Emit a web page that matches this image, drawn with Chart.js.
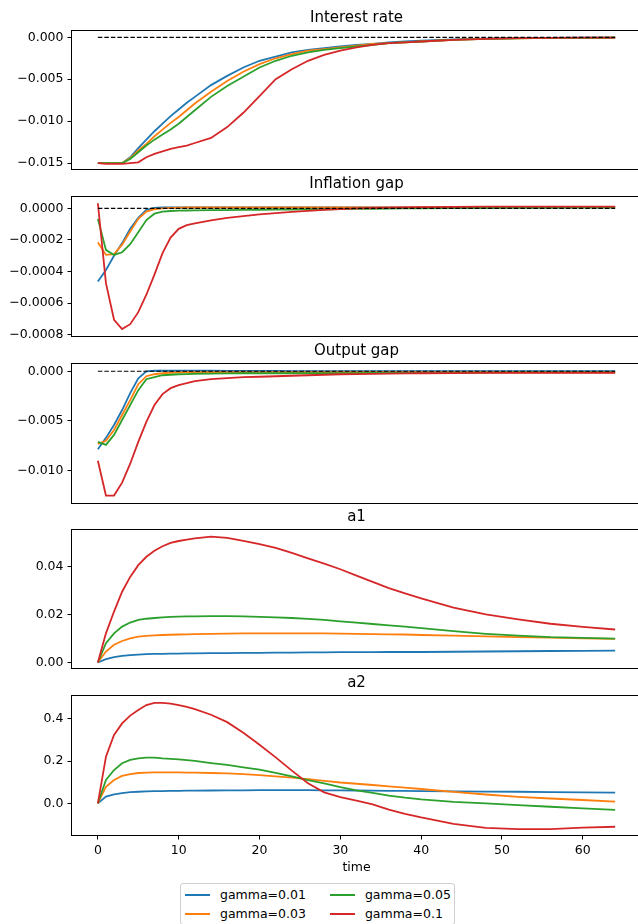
<!DOCTYPE html>
<html>
<head>
<meta charset="utf-8">
<script src="https://cdn.jsdelivr.net/npm/chart.js@4.4.1/dist/chart.umd.min.js"></script>
<style>
html, body { margin: 0; padding: 0; width: 638px; height: 924px; overflow: hidden; background: #fff; }
canvas { position: absolute; left: 0; }
#legend {
    position: absolute; left: 180px; top: 883px;
    border: 1px solid #d0d0d0; border-radius: 3px;
    padding: 1px 3px 1px 4px;
    display: grid; grid-auto-flow: column; grid-template-rows: 19px 19px; column-gap: 24px;
    font: 12.5px 'DejaVu Sans', sans-serif; color: #000; background: #fff;
}
#legend .item { display: flex; align-items: center; white-space: nowrap; }
#legend .line { display: inline-block; width: 25px; height: 2px; margin-right: 10px; }
</style>
</head>
<body>
<canvas id="rateChart"></canvas>
<canvas id="inflChart"></canvas>
<canvas id="outChart"></canvas>
<canvas id="a1Chart"></canvas>
<canvas id="a2Chart"></canvas>
<div id="legend"></div>
<script>
// time points
const time = [0, 1, 2, 3, 4, 5, 6, 7, 8, 9, 10, 11, 12, 14, 16, 18, 20, 22, 24, 26, 28, 30, 32, 34, 36, 38, 40, 44, 48, 52, 56, 60, 64];
const timeTicks = [0, 10, 20, 30, 40, 50, 60];
const gammaLabels = ["gamma=0.01", "gamma=0.03", "gamma=0.05", "gamma=0.1"];

// Interest rate
const rate001 = [-0.0150, -0.0150, -0.0150, -0.0150, -0.0143, -0.0132, -0.0122, -0.0112, -0.0103, -0.0094, -0.0086, -0.0078, -0.0071,
    -0.0057, -0.0046, -0.0036, -0.0028, -0.0023, -0.0018, -0.0015, -0.0013, -0.0011, -0.0009, -0.0008, -0.0006, -0.0005, -0.0004,
    -0.00025, -0.00015, -0.0001, -0.00007, -0.00005, -0.00004];
const rate003 = [-0.0150, -0.0150, -0.0150, -0.0150, -0.0144, -0.0135, -0.0127, -0.0118, -0.0110, -0.0102, -0.0095, -0.0087, -0.0079,
    -0.0065, -0.0052, -0.0041, -0.0032, -0.0025, -0.0020, -0.0016, -0.0014, -0.0012, -0.0010, -0.0008, -0.0007, -0.0006, -0.0005,
    -0.0003, -0.0002, -0.00012, -0.00008, -0.00006, -0.00004];
const rate005 = [-0.0150, -0.0150, -0.0150, -0.0150, -0.0145, -0.0137, -0.0129, -0.0122, -0.0116, -0.0110, -0.0103, -0.0095, -0.0087,
    -0.0071, -0.0058, -0.0047, -0.0036, -0.0028, -0.0022, -0.0018, -0.0015, -0.0013, -0.0011, -0.0009, -0.0007, -0.0006, -0.0005,
    -0.0003, -0.0002, -0.00012, -0.00008, -0.00006, -0.00004];
const rate010 = [-0.0150, -0.0151, -0.0151, -0.0151, -0.0150, -0.0149, -0.0143, -0.0139, -0.0136, -0.0133, -0.0131, -0.0129, -0.0126,
    -0.0120, -0.0107, -0.0090, -0.0070, -0.0050, -0.0038, -0.0028, -0.0021, -0.0016, -0.0012, -0.0009, -0.0007, -0.0006, -0.0005,
    -0.0003, -0.0002, -0.0001, -0.00007, -0.00005, -0.00004];
const rateTicks = [0, -0.005, -0.010, -0.015];

// Inflation gap
const infl001 = [-0.000463, -0.00039, -0.00030, -0.00022, -0.00013, -0.00006, -0.00001, 0.000002, 0.000005, 0.000005, 0.000005, 0.000005, 0.000005,
    0.000005, 0.000005, 0.000005, 0.000005, 0.000005, 0.000005, 0.000005, 0.000005, 0.000005, 0.000005, 0.000005, 0.000005, 0.000005, 0.000005,
    0.000006, 0.000006, 0.000006, 0.000006, 0.000006, 0.000006];
const infl003 = [-0.000215, -0.000295, -0.00029, -0.00023, -0.000147, -0.000067, -0.000021, -0.000006, 0.0, 0.000003, 0.000004, 0.000005, 0.000005,
    0.000005, 0.000005, 0.000005, 0.000005, 0.000005, 0.000005, 0.000005, 0.000005, 0.000005, 0.000006, 0.000006, 0.000006, 0.000006, 0.000006,
    0.000007, 0.000007, 0.000007, 0.000007, 0.000007, 0.000007];
const infl005 = [-0.000067, -0.000263, -0.000295, -0.000278, -0.000227, -0.000152, -0.000074, -0.000034, -0.000021, -0.000017, -0.000015, -0.000014, -0.000013,
    -0.000012, -0.000011, -0.00001, -0.00001, -0.000009, -0.000008, -0.000007, -0.000006, -0.000005, -0.000004, -0.000003, -0.000002, -0.000001, 0.0,
    0.000001, 0.000002, 0.000003, 0.000003, 0.000004, 0.000004];
const infl010 = [0.000032, -0.000474, -0.000705, -0.000764, -0.000733, -0.000657, -0.000547, -0.00042, -0.000284, -0.000185, -0.00013, -0.000107, -0.000095,
    -0.000076, -0.000061, -0.00005, -0.000038, -0.00003, -0.000022, -0.000016, -0.00001, -0.000005, -0.000001, 0.000002, 0.000004, 0.000006, 0.000007,
    0.000009, 0.00001, 0.00001, 0.00001, 0.00001, 0.00001];
const inflTicks = [0, -0.0002, -0.0004, -0.0006, -0.0008];

// Output gap
const out001 = [-0.00785, -0.0067, -0.0054, -0.0039, -0.0022, -0.0007, 0.0, 0.00005, 0.00005, 0.00005, 0.00005, 0.00005, 0.00005,
    0.00005, 0.00004, 0.00004, 0.00003, 0.00003, 0.00002, 0.00002, 0.00001, 0.00001, 0.00001, 0.0, 0.0, 0.0, 0.0,
    0.0, 0.0, 0.0, 0.0, 0.0, 0.0];
const out003 = [-0.0073, -0.0070, -0.0059, -0.0044, -0.0029, -0.0013, -0.0005, -0.0003, -0.0002, -0.00015, -0.00012, -0.0001, -0.0001,
    -0.0001, -0.0001, -0.0001, -0.0001, -0.0001, -0.0001, -0.0001, -0.0001, -0.0001, -0.0001, -0.0001, -0.0001, -0.0001, -0.0001,
    -0.0001, -0.0001, -0.0001, -0.0001, -0.0001, -0.0001];
const out005 = [-0.0071, -0.0074, -0.0064, -0.0049, -0.0034, -0.0019, -0.0008, -0.0006, -0.0004, -0.00035, -0.0003, -0.00028, -0.00025,
    -0.00023, -0.00022, -0.0002, -0.0002, -0.0002, -0.0002, -0.0002, -0.00019, -0.00018, -0.00018, -0.00017, -0.00017, -0.00016, -0.00016,
    -0.00015, -0.00013, -0.00012, -0.0001, -0.0001, -0.0001];
const out010 = [-0.0090, -0.0125, -0.0125, -0.0112, -0.0093, -0.0071, -0.0051, -0.0034, -0.0023, -0.0017, -0.0014, -0.0012, -0.0010,
    -0.0008, -0.0007, -0.0006, -0.00055, -0.0005, -0.00045, -0.0004, -0.00035, -0.0003, -0.00028, -0.00026, -0.00024, -0.00022, -0.0002,
    -0.00018, -0.00017, -0.00016, -0.00015, -0.00015, -0.00015];
const outTicks = [0, -0.005, -0.010];

// a1
const a1g001 = [0, 0.0014, 0.0022, 0.0028, 0.0031, 0.0033, 0.0035, 0.0036, 0.0036, 0.0037, 0.0037, 0.0038, 0.0038,
    0.0039, 0.0039, 0.0040, 0.0040, 0.0041, 0.0041, 0.0042, 0.0042, 0.0043, 0.0043, 0.0043, 0.0044, 0.0044, 0.0044,
    0.0045, 0.0046, 0.0047, 0.0048, 0.0049, 0.0050];
const a1g003 = [0, 0.0046, 0.0074, 0.0090, 0.0101, 0.0108, 0.0111, 0.0113, 0.0115, 0.0116, 0.0117, 0.0118, 0.0119,
    0.0120, 0.0121, 0.0122, 0.0122, 0.0122, 0.0122, 0.0122, 0.0122, 0.0121, 0.0120, 0.0119, 0.0118, 0.0117, 0.0115,
    0.0112, 0.0109, 0.0106, 0.0104, 0.0101, 0.0099];
const a1g005 = [0, 0.0081, 0.0122, 0.0150, 0.0167, 0.0178, 0.0183, 0.0186, 0.0189, 0.0191, 0.0192, 0.0193, 0.0193,
    0.0194, 0.0194, 0.0193, 0.0191, 0.0189, 0.0186, 0.0182, 0.0178, 0.0172, 0.0167, 0.0161, 0.0155, 0.0150, 0.0144,
    0.0131, 0.0120, 0.0112, 0.0106, 0.0103, 0.0100];
const a1g010 = [0, 0.0122, 0.0213, 0.0296, 0.0358, 0.0407, 0.0442, 0.0467, 0.0486, 0.0500, 0.0508, 0.0514, 0.0519,
    0.0526, 0.0521, 0.0509, 0.0495, 0.0479, 0.0458, 0.0435, 0.0413, 0.0390, 0.0363, 0.0337, 0.0311, 0.0289, 0.0268,
    0.0229, 0.0201, 0.0180, 0.0162, 0.0149, 0.0138];
const a1Ticks = [0, 0.02, 0.04];

// a2
const a2g001 = [0, 0.032, 0.043, 0.049, 0.053, 0.055, 0.057, 0.058, 0.058, 0.059, 0.059, 0.060, 0.060,
    0.061, 0.062, 0.062, 0.063, 0.063, 0.063, 0.063, 0.062, 0.062, 0.061, 0.060, 0.059, 0.059, 0.058,
    0.057, 0.056, 0.055, 0.053, 0.052, 0.051];
const a2g003 = [0, 0.079, 0.111, 0.130, 0.139, 0.144, 0.146, 0.147, 0.147, 0.147, 0.147, 0.146, 0.146,
    0.144, 0.142, 0.139, 0.134, 0.128, 0.122, 0.115, 0.107, 0.099, 0.093, 0.087, 0.081, 0.075, 0.068,
    0.054, 0.042, 0.031, 0.023, 0.016, 0.008];
const a2g005 = [0, 0.111, 0.158, 0.190, 0.206, 0.213, 0.217, 0.217, 0.213, 0.211, 0.209, 0.205, 0.201,
    0.191, 0.182, 0.171, 0.160, 0.145, 0.128, 0.110, 0.095, 0.077, 0.062, 0.050, 0.037, 0.027, 0.019,
    0.007, 0.000, -0.008, -0.016, -0.024, -0.031];
const a2g010 = [0, 0.221, 0.324, 0.379, 0.416, 0.443, 0.466, 0.476, 0.476, 0.473, 0.466, 0.457, 0.447,
    0.420, 0.385, 0.335, 0.278, 0.218, 0.155, 0.095, 0.052, 0.030, 0.013, -0.005, -0.030, -0.050, -0.067,
    -0.097, -0.116, -0.122, -0.122, -0.115, -0.111];
const a2Ticks = [0, 0.2, 0.4];

const FONT = "'DejaVu Sans', sans-serif";
const colors = ["#1f77b4", "#ff7f0e", "#2ca02c", "#d62728"];
const areaTop = [31, 197, 364, 530, 696];
const areaHeight = [138, 139, 139, 138, 139];

function fmt(v, dec) {
    return v.toFixed(dec).replace("-", "\u2212");
}

// matplotlib style box around the plot area
const framePlugin = {
    id: "frame",
    afterDraw(chart) {
        const a = chart.chartArea;
        const ctx = chart.ctx;
        ctx.save();
        ctx.strokeStyle = "#000";
        ctx.lineWidth = 1;
        ctx.strokeRect(Math.round(a.left) - 0.5, Math.round(a.top) - 0.5,
            Math.round(a.right - a.left) + 1, Math.round(a.bottom - a.top) + 1);
        ctx.restore();
    }
};

function makePanel(id, idx, title, series, yMin, yMax, yTicks, dec, zero, last) {
    const bottomH = last ? 45 : 14;
    const cv = document.getElementById(id);
    cv.width = 641;
    cv.height = 28 + areaHeight[idx] + bottomH;
    cv.style.top = (areaTop[idx] - 28) + "px";

    const datasets = series.map((s, i) => ({
        label: gammaLabels[i],
        data: time.map((t, k) => ({ x: t, y: s[k] })),
        borderColor: colors[i],
        borderWidth: 1.8,
        pointRadius: 0,
        tension: 0,
        fill: false,
        order: 4 - i
    }));
    if (zero) {
        datasets.push({
            label: "zero",
            data: [{ x: time[0], y: 0 }, { x: time[time.length - 1], y: 0 }],
            borderColor: "#000",
            borderWidth: 1.2,
            borderDash: [4.5, 2],
            pointRadius: 0,
            order: 0
        });
    }

    new Chart(cv, {
        type: "line",
        data: { datasets },
        plugins: [framePlugin],
        options: {
            responsive: false,
            animation: false,
            layout: { padding: 0 },
            plugins: {
                legend: { display: false },
                tooltip: { enabled: false },
                title: {
                    display: true, text: title, fullSize: false, color: "#000",
                    font: { family: FONT, size: 15, weight: "normal" },
                    padding: { top: 6, bottom: 4 }
                }
            },
            scales: {
                x: {
                    type: "linear", min: -3.2, max: 67.2,
                    afterBuildTicks: s => { s.ticks = timeTicks.map(v => ({ value: v })); },
                    afterFit: s => { s.height = bottomH; },
                    ticks: { display: last, autoSkip: false, maxRotation: 0, padding: 4, color: "#000",
                        font: { family: FONT, size: 12.5 } },
                    grid: { display: last, drawOnChartArea: false, tickLength: 4.5, tickColor: "#000", tickWidth: 1 },
                    border: { display: false },
                    title: { display: last, text: "time", color: "#000",
                        font: { family: FONT, size: 12.5 }, padding: { top: 2, bottom: 5 } }
                },
                y: {
                    min: yMin, max: yMax,
                    afterBuildTicks: s => { s.ticks = yTicks.map(v => ({ value: v })); },
                    afterFit: s => { s.width = 72; },
                    ticks: { autoSkip: false, padding: 4, color: "#000",
                        font: { family: FONT, size: 12.5 },
                        callback: v => fmt(v, dec) },
                    grid: { drawOnChartArea: false, tickLength: 4.5, tickColor: "#000", tickWidth: 1 },
                    border: { display: false }
                }
            }
        }
    });
}

makePanel("rateChart", 0, "Interest rate", [rate001, rate003, rate005, rate010], -0.0157, 0.00075, rateTicks, 3, true, false);
makePanel("inflChart", 1, "Inflation gap", [infl001, infl003, infl005, infl010], -0.000808, 0.0000715, inflTicks, 4, true, false);
makePanel("outChart", 2, "Output gap", [out001, out003, out005, out010], -0.01325, 0.00073, outTicks, 3, true, false);
makePanel("a1Chart", 3, "a1", [a1g001, a1g003, a1g005, a1g010], -0.0023, 0.0554, a1Ticks, 2, false, false);
makePanel("a2Chart", 4, "a2", [a2g001, a2g003, a2g005, a2g010], -0.150, 0.509, a2Ticks, 1, false, true);

// legend, two columns like the original
const legendEl = document.getElementById("legend");
gammaLabels.forEach((lab, i) => {
    const item = document.createElement("div");
    item.className = "item";
    const line = document.createElement("span");
    line.className = "line";
    line.style.background = colors[i];
    item.appendChild(line);
    item.appendChild(document.createTextNode(lab));
    legendEl.appendChild(item);
});
</script>
</body>
</html>
